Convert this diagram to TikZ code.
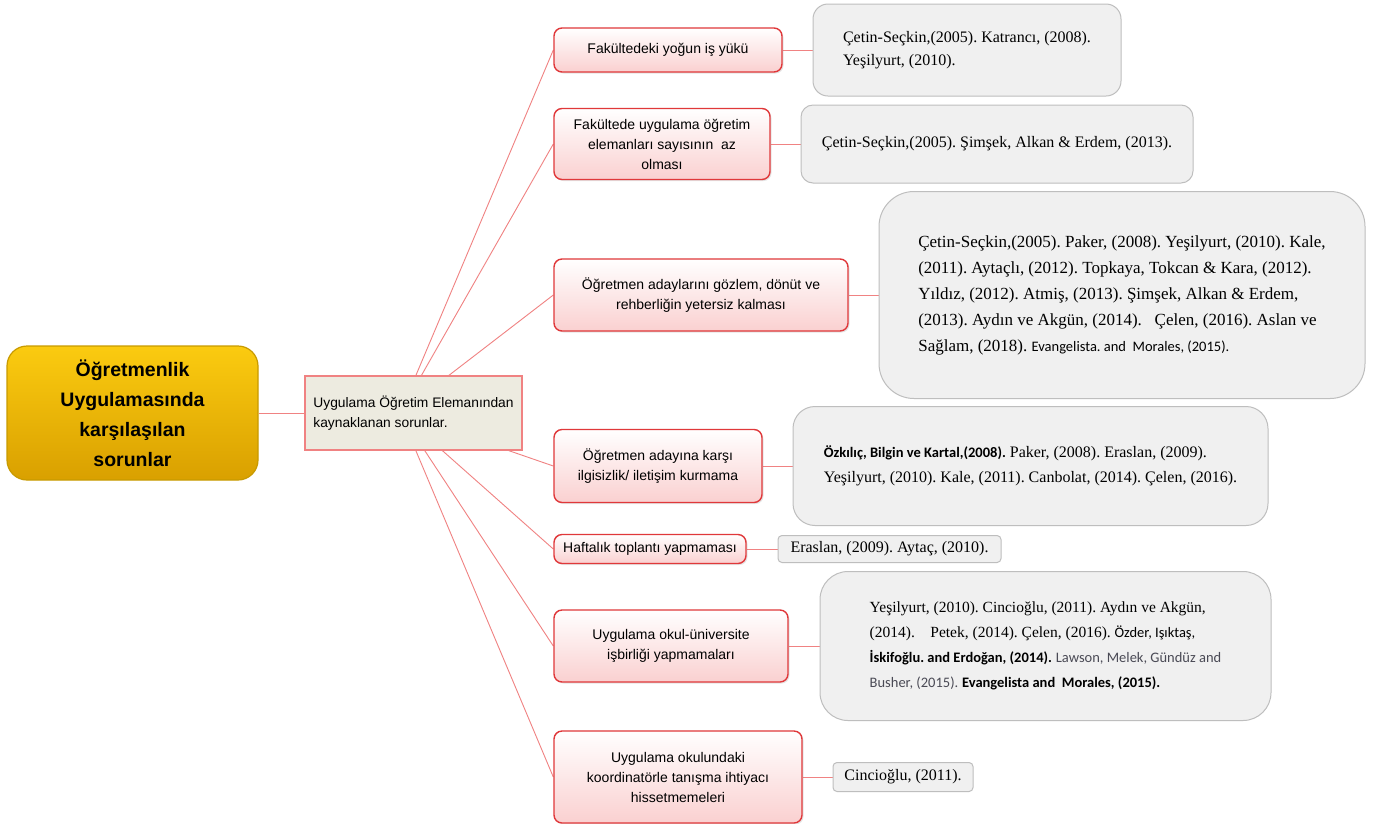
\documentclass[tikz,border=0pt]{standalone}
\usepackage{fontspec}
\setmainfont{Liberation Serif}
\setsansfont{Liberation Sans}
\newfontfamily\carlito{Carlito}
\usetikzlibrary{backgrounds,shadows}
\frenchspacing

\definecolor{rootTop}{HTML}{FBCB10}
\definecolor{rootBot}{HTML}{D9A000}
\definecolor{rootLine}{HTML}{C89A00}
\definecolor{probLine}{HTML}{E0383A}
\definecolor{probBot}{HTML}{FAD0D0}
\definecolor{citeFill}{HTML}{F0F0F0}
\definecolor{citeLine}{HTML}{BEBEBE}
\definecolor{branch}{HTML}{F08282}
\definecolor{midFill}{HTML}{EDEBE0}
\definecolor{lawsonGray}{HTML}{4A4A55}

\newcommand{\sanscite}{\carlito\fontsize{14.5}{25}\selectfont}

\tikzset{
  rootbox/.style={draw=rootLine, line width=1.2pt, rounded corners=20pt,
    top color=rootTop, bottom color=rootBot, align=center,
    font=\sffamily\bfseries\fontsize{19.5}{30}\selectfont},
  midbox/.style={draw=branch, line width=1.2pt, fill=midFill, align=left,
    font=\sffamily\fontsize{13.8}{20}\selectfont},
  probbox/.style={draw=probLine, line width=1.4pt, rounded corners=8pt,
    top color=white, bottom color=probBot, align=center,
    drop shadow={shadow xshift=1.5pt, shadow yshift=-1.5pt, opacity=0.2},
    font=\sffamily\fontsize{14}{20}\selectfont},
  citebox/.style={draw=citeLine, line width=1pt, fill=citeFill, align=left,
    font=\fontsize{16}{25}\selectfont},
  branchline/.style={draw=branch, line width=0.9pt},
}

\begin{document}
\begin{tikzpicture}[x=1pt,y=-1pt]

    \useasboundingbox (0,0) rectangle (1383,823);

    % Main topic and sub topic
    \node[rootbox, minimum width=251pt, minimum height=134pt] (root) at (132.5,413)
        {Öğretmenlik\\Uygulamasında\\karşılaşılan\\sorunlar};
    \node[midbox, minimum width=217pt, minimum height=74pt] (mid) at (413.5,413)
        {Uygulama Öğretim Elemanından\\kaynaklanan sorunlar.};
    \coordinate (hub) at (400,413);

    % Problems
    \node[probbox, minimum width=228pt, minimum height=44pt] (p1) at (668,50)
        {Fakültedeki yoğun iş yükü};
    \node[probbox, minimum width=216pt, minimum height=71pt] (p2) at (662,144)
        {Fakültede uygulama öğretim\\elemanları sayısının~ az\\olması};
    \node[probbox, minimum width=294pt, minimum height=72pt] (p3) at (701,295)
        {Öğretmen adaylarını gözlem, dönüt ve\\rehberliğin yetersiz kalması};
    \node[probbox, minimum width=208pt, minimum height=73pt] (p4) at (658,466)
        {Öğretmen adayına karşı\\ilgisizlik/ iletişim kurmama};
    \node[probbox, minimum width=192pt, minimum height=29pt] (p5) at (650,549)
        {Haftalık toplantı yapmaması};
    \node[probbox, minimum width=234pt, minimum height=72pt] (p6) at (671,646)
        {Uygulama okul-üniversite\\işbirliği yapmamaları};
    \node[probbox, minimum width=248pt, minimum height=92pt] (p7) at (678,777)
        {Uygulama okulundaki\\koordinatörle tanışma ihtiyacı\\hissetmemeleri};

    % Sources
    \node[citebox, rounded corners=15pt, minimum width=308pt, minimum height=92pt,
        font=\fontsize{16}{23}\selectfont] (g1) at (967,50)
        {Çetin-Seçkin,(2005). Katrancı, (2008).\\Yeşilyurt, (2010).};
    \node[citebox, rounded corners=12pt, minimum width=392pt, minimum height=78pt] (g2) at (997,144)
        {Çetin-Seçkin,(2005). Şimşek, Alkan \& Erdem, (2013).};
    \node[citebox, rounded corners=35pt, minimum width=486pt, minimum height=207pt,
        font=\fontsize{17}{26}\selectfont] (g3) at (1122,295)
        {Çetin-Seçkin,(2005). Paker, (2008). Yeşilyurt, (2010). Kale,\\
         (2011). Aytaçlı, (2012). Topkaya, Tokcan \& Kara, (2012).\\
         Yıldız, (2012). Atmiş, (2013). Şimşek, Alkan \& Erdem,\\
         (2013). Aydın ve Akgün, (2014).~~ Çelen, (2016). Aslan ve\\
         Sağlam, (2018). {\sanscite Evangelista. and~ Morales, (2015).}};
    \node[citebox, rounded corners=22pt, minimum width=475pt, minimum height=119pt] (g4) at (1030.5,466)
        {{\sanscite\bfseries Özkılıç, Bilgin ve Kartal,(2008).} Paker, (2008). Eraslan, (2009).\\
         Yeşilyurt, (2010). Kale, (2011). Canbolat, (2014). Çelen, (2016).};
    \node[citebox, rounded corners=4pt, minimum width=223pt, minimum height=27pt] (g5) at (889.5,549)
        {Eraslan, (2009). Aytaç, (2010).};
    \node[citebox, rounded corners=28pt, minimum width=451pt, minimum height=149pt,
        font=\fontsize{15.5}{25}\selectfont] (g6) at (1045.5,646)
        {Yeşilyurt, (2010). Cincioğlu, (2011). Aydın ve Akgün,\\
         (2014).~~~ Petek, (2014). Çelen, (2016). {\sanscite Özder, Işıktaş,}\\
         {\sanscite\bfseries İskifoğlu. and Erdoğan, (2014).} {\sanscite\color{lawsonGray}Lawson, Melek, Gündüz and}\\
         {\sanscite\color{lawsonGray}Busher, (2015).} {\sanscite\bfseries Evangelista and~ Morales, (2015).}};
    \node[citebox, rounded corners=4pt, minimum width=140pt, minimum height=29pt] (g7) at (903,777)
        {Cincioğlu, (2011).};

    % Connectors
    \begin{scope}[on background layer]
        \fill[white] (0,0) rectangle (1383,823);
        \draw[branchline] (root) -- (mid);
        \foreach \p in {p1,p2,p3,p4,p5,p6,p7}
            \draw[branchline] (hub) -- (\p.west);
        \foreach \p/\g in {p1/g1,p2/g2,p3/g3,p4/g4,p5/g5,p6/g6,p7/g7}
            \draw[branchline] (\p) -- (\g);
    \end{scope}
\end{tikzpicture}
\end{document}
